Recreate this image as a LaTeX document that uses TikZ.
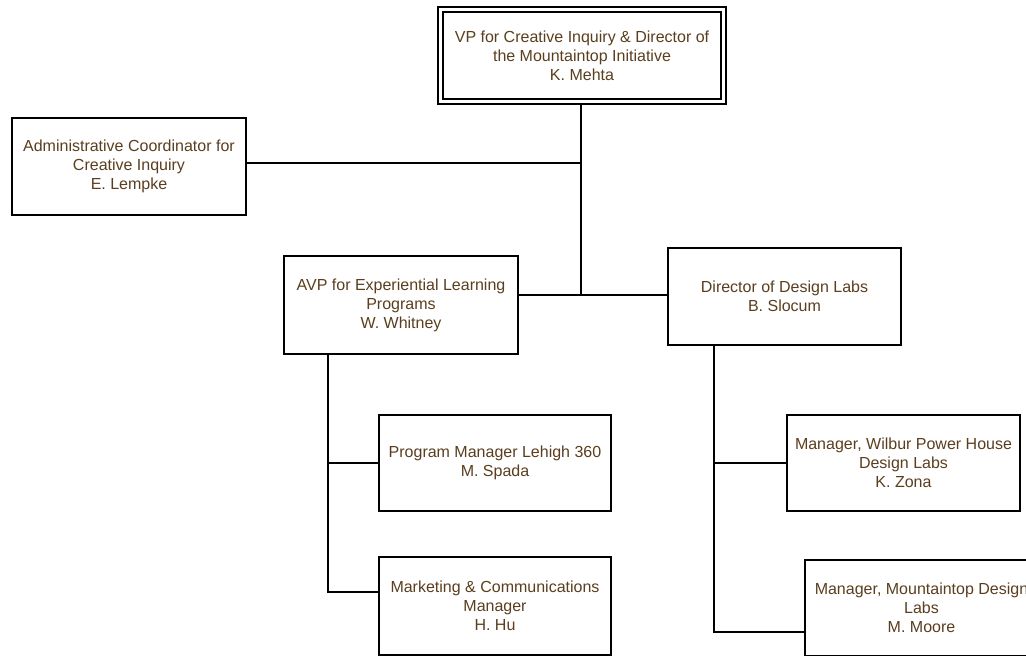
\documentclass[tikz,border=0pt]{standalone}
\usepackage{fontspec}
\setmainfont{Liberation Sans}
\definecolor{txt}{HTML}{5A3E1E}
\begin{document}
\begin{tikzpicture}[x=1pt,y=-1pt,
  box/.style={draw=black,line width=1.3pt,rectangle,align=center,text=txt,
    font=\fontsize{16}{19}\selectfont,inner sep=0pt},
  conn/.style={draw=black,line width=1.3pt}]
\useasboundingbox (0,0) rectangle (1026,656);
\clip (0,0) rectangle (1026,656);
% top box with double border
\node[box,minimum width=288,minimum height=97] (vp) at (582,55.5)
  {VP for Creative Inquiry \& Director of\\the Mountaintop Initiative\\K. Mehta};
\draw[line width=1.3pt] (443,12) rectangle (721,99);
\node[box,minimum width=234,minimum height=97] (adm) at (129,166.5)
  {Administrative Coordinator for\\Creative Inquiry\\E. Lempke};
\node[box,minimum width=234,minimum height=98] (avp) at (401,305)
  {AVP for Experiential Learning\\Programs\\W. Whitney};
\node[box,minimum width=233,minimum height=97] (dir) at (784.5,296.5)
  {Director of Design Labs\\B. Slocum};
\node[box,minimum width=232,minimum height=96] (spa) at (495,463)
  {Program Manager Lehigh 360\\M. Spada};
\node[box,minimum width=232,minimum height=98] (hu) at (495,606)
  {Marketing \& Communications\\Manager\\H. Hu};
\node[box,minimum width=233,minimum height=96] (zon) at (903.5,463)
  {Manager, Wilbur Power House\\Design Labs\\K. Zona};
\node[box,minimum width=233,minimum height=96] (moo) at (921.5,608)
  {Manager, Mountaintop Design\\Labs\\M. Moore};
% connectors
\coordinate (j1) at (581,295);
\coordinate (j2) at (581,163);
\draw[conn] (vp.south -| j1) -- (j1);
\draw[conn] (adm.east |- j2) -- (j2);
\draw[conn] (avp.east |- j1) -- (dir.west |- j1);
\coordinate (a1) at (328,463);
\coordinate (a2) at (328,592);
\draw[conn] (avp.south -| a1) -- (a2) -- (hu.west |- a2);
\draw[conn] (a1) -- (spa.west |- a1);
\coordinate (d1) at (714,463);
\coordinate (d2) at (714,632);
\draw[conn] (dir.south -| d1) -- (d2) -- (moo.west |- d2);
\draw[conn] (d1) -- (zon.west |- d1);
\end{tikzpicture}
\end{document}
